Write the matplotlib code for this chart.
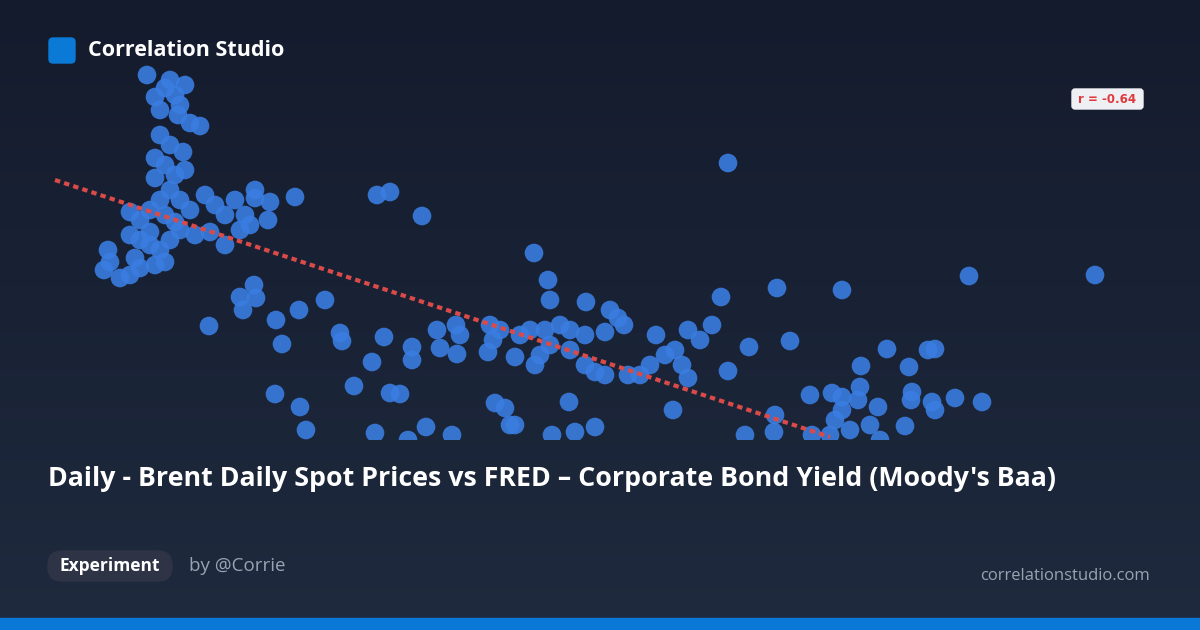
import matplotlib.pyplot as plt
from matplotlib.patches import FancyBboxPatch, Rectangle
import numpy as np

# scatter points (horizontal position, vertical position from top)
brent = [147,155,165,175,180,185,170,160,178,190,200,160,170,155,183,165,175,155,185,170,180,160,150,130,140,165,190,205,215,225,235,245,255,255,270,295,268,250,240,225,210,195,180,170,160,150,140,130,108,110,104,120,130,140,155,165,135,150,175,
         377,390,422,728,534,969,1095,548,550,586,721,777,842,254,240,243,256,325,299,276,209,282,340,342,384,412,437,456,460,440,457,490,500,493,520,530,545,560,570,610,618,624,605,585,550,540,535,570,585,595,605,515,488,412,372,354,390,400,275,300,306,495,505,510,515,569,595,575,552,375,426,452,408,
         656,688,712,700,675,665,650,640,628,682,688,673,728,749,790,887,861,909,928,935,810,832,842,860,858,842,835,850,870,878,912,911,932,935,955,982,905,775,745,774,812,830,880]
baa = [75,97,88,95,105,85,80,110,115,123,126,135,145,158,152,165,175,178,170,190,200,200,210,212,220,215,210,195,205,215,200,215,190,198,202,197,220,225,230,245,232,235,230,240,250,245,240,235,250,262,270,278,275,268,265,262,258,232,222,
       195,192,216,163,253,276,275,280,300,302,297,288,290,285,297,310,298,300,310,320,326,344,333,341,337,347,330,325,335,348,354,325,330,340,335,330,330,325,330,310,318,325,332,335,345,355,365,350,365,372,375,357,352,360,362,386,393,394,394,407,430,403,408,425,425,402,427,432,435,433,427,435,440,
       335,330,325,340,350,355,365,375,375,365,378,410,371,347,341,349,366,367,350,349,395,393,397,387,400,410,420,430,425,407,392,400,402,410,398,402,426,415,435,432,435,435,440]
trend_x = [55, 830]
trend_y = [180, 437]

title = "Daily - Brent Daily Spot Prices vs FRED \u2013 Corporate Bond Yield (Moody's Baa)"
r_label = "r = -0.64"

fig = plt.figure(figsize=(12, 6.3), dpi=100)
bg = fig.add_axes([0, 0, 1, 1])
bg.set_xlim(0, 1200)
bg.set_ylim(630, 0)
bg.axis("off")
grad = np.linspace(0, 1, 256).reshape(-1, 1)
bg.imshow(grad, extent=[0, 1200, 630, 0], aspect="auto",
          cmap=plt.matplotlib.colors.LinearSegmentedColormap.from_list("g", ["#141b2d", "#1f2a3e"]))
bg.add_patch(Rectangle((0, 618), 1200, 12, color="#0a78d6"))
bg.add_patch(FancyBboxPatch((49, 38), 26, 25, boxstyle="round,pad=0,rounding_size=4", color="#0a7ad6"))
bg.text(88, 51, "Correlation Studio", color="white", fontsize=15.5, fontweight="bold", va="center", family="Open Sans")
bg.text(48, 479, title, color="white", fontsize=19.3, fontweight="bold", va="center", family="Open Sans")
bg.add_patch(FancyBboxPatch((48, 551), 124, 30, boxstyle="round,pad=0,rounding_size=14", color="#2e3445"))
bg.text(110, 566, "Experiment", color="white", fontsize=12.5, fontweight="bold", va="center", ha="center", family="Open Sans")
bg.text(189, 566, "by @Corrie", color="#9aa3b2", fontsize=13.5, va="center", family="Open Sans")
bg.text(1150, 576, "correlationstudio.com", color="#9aa3b2", fontsize=12, va="center", ha="right", family="Open Sans")

ax = fig.add_axes([0, 190 / 630, 1, 1 - 190 / 630])
ax.set_xlim(0, 1200)
ax.set_ylim(440, 0)
ax.axis("off")
ax.scatter(brent, baa, s=180, color="#3a7de0", alpha=0.9, edgecolors="none", zorder=2)
ax.plot(trend_x, trend_y, color="#d94a48", lw=3, ls=(0, (1.3, 1)), zorder=3)
ax.add_patch(FancyBboxPatch((1072, 89), 71, 20, boxstyle="round,pad=0,rounding_size=3", color="#eef0f3", zorder=4))
ax.text(1107.5, 99.5, r_label, color="#e0393e", fontsize=8.5, fontweight="bold", ha="center", va="center", zorder=5)

fig.savefig("out.png", dpi=100)
